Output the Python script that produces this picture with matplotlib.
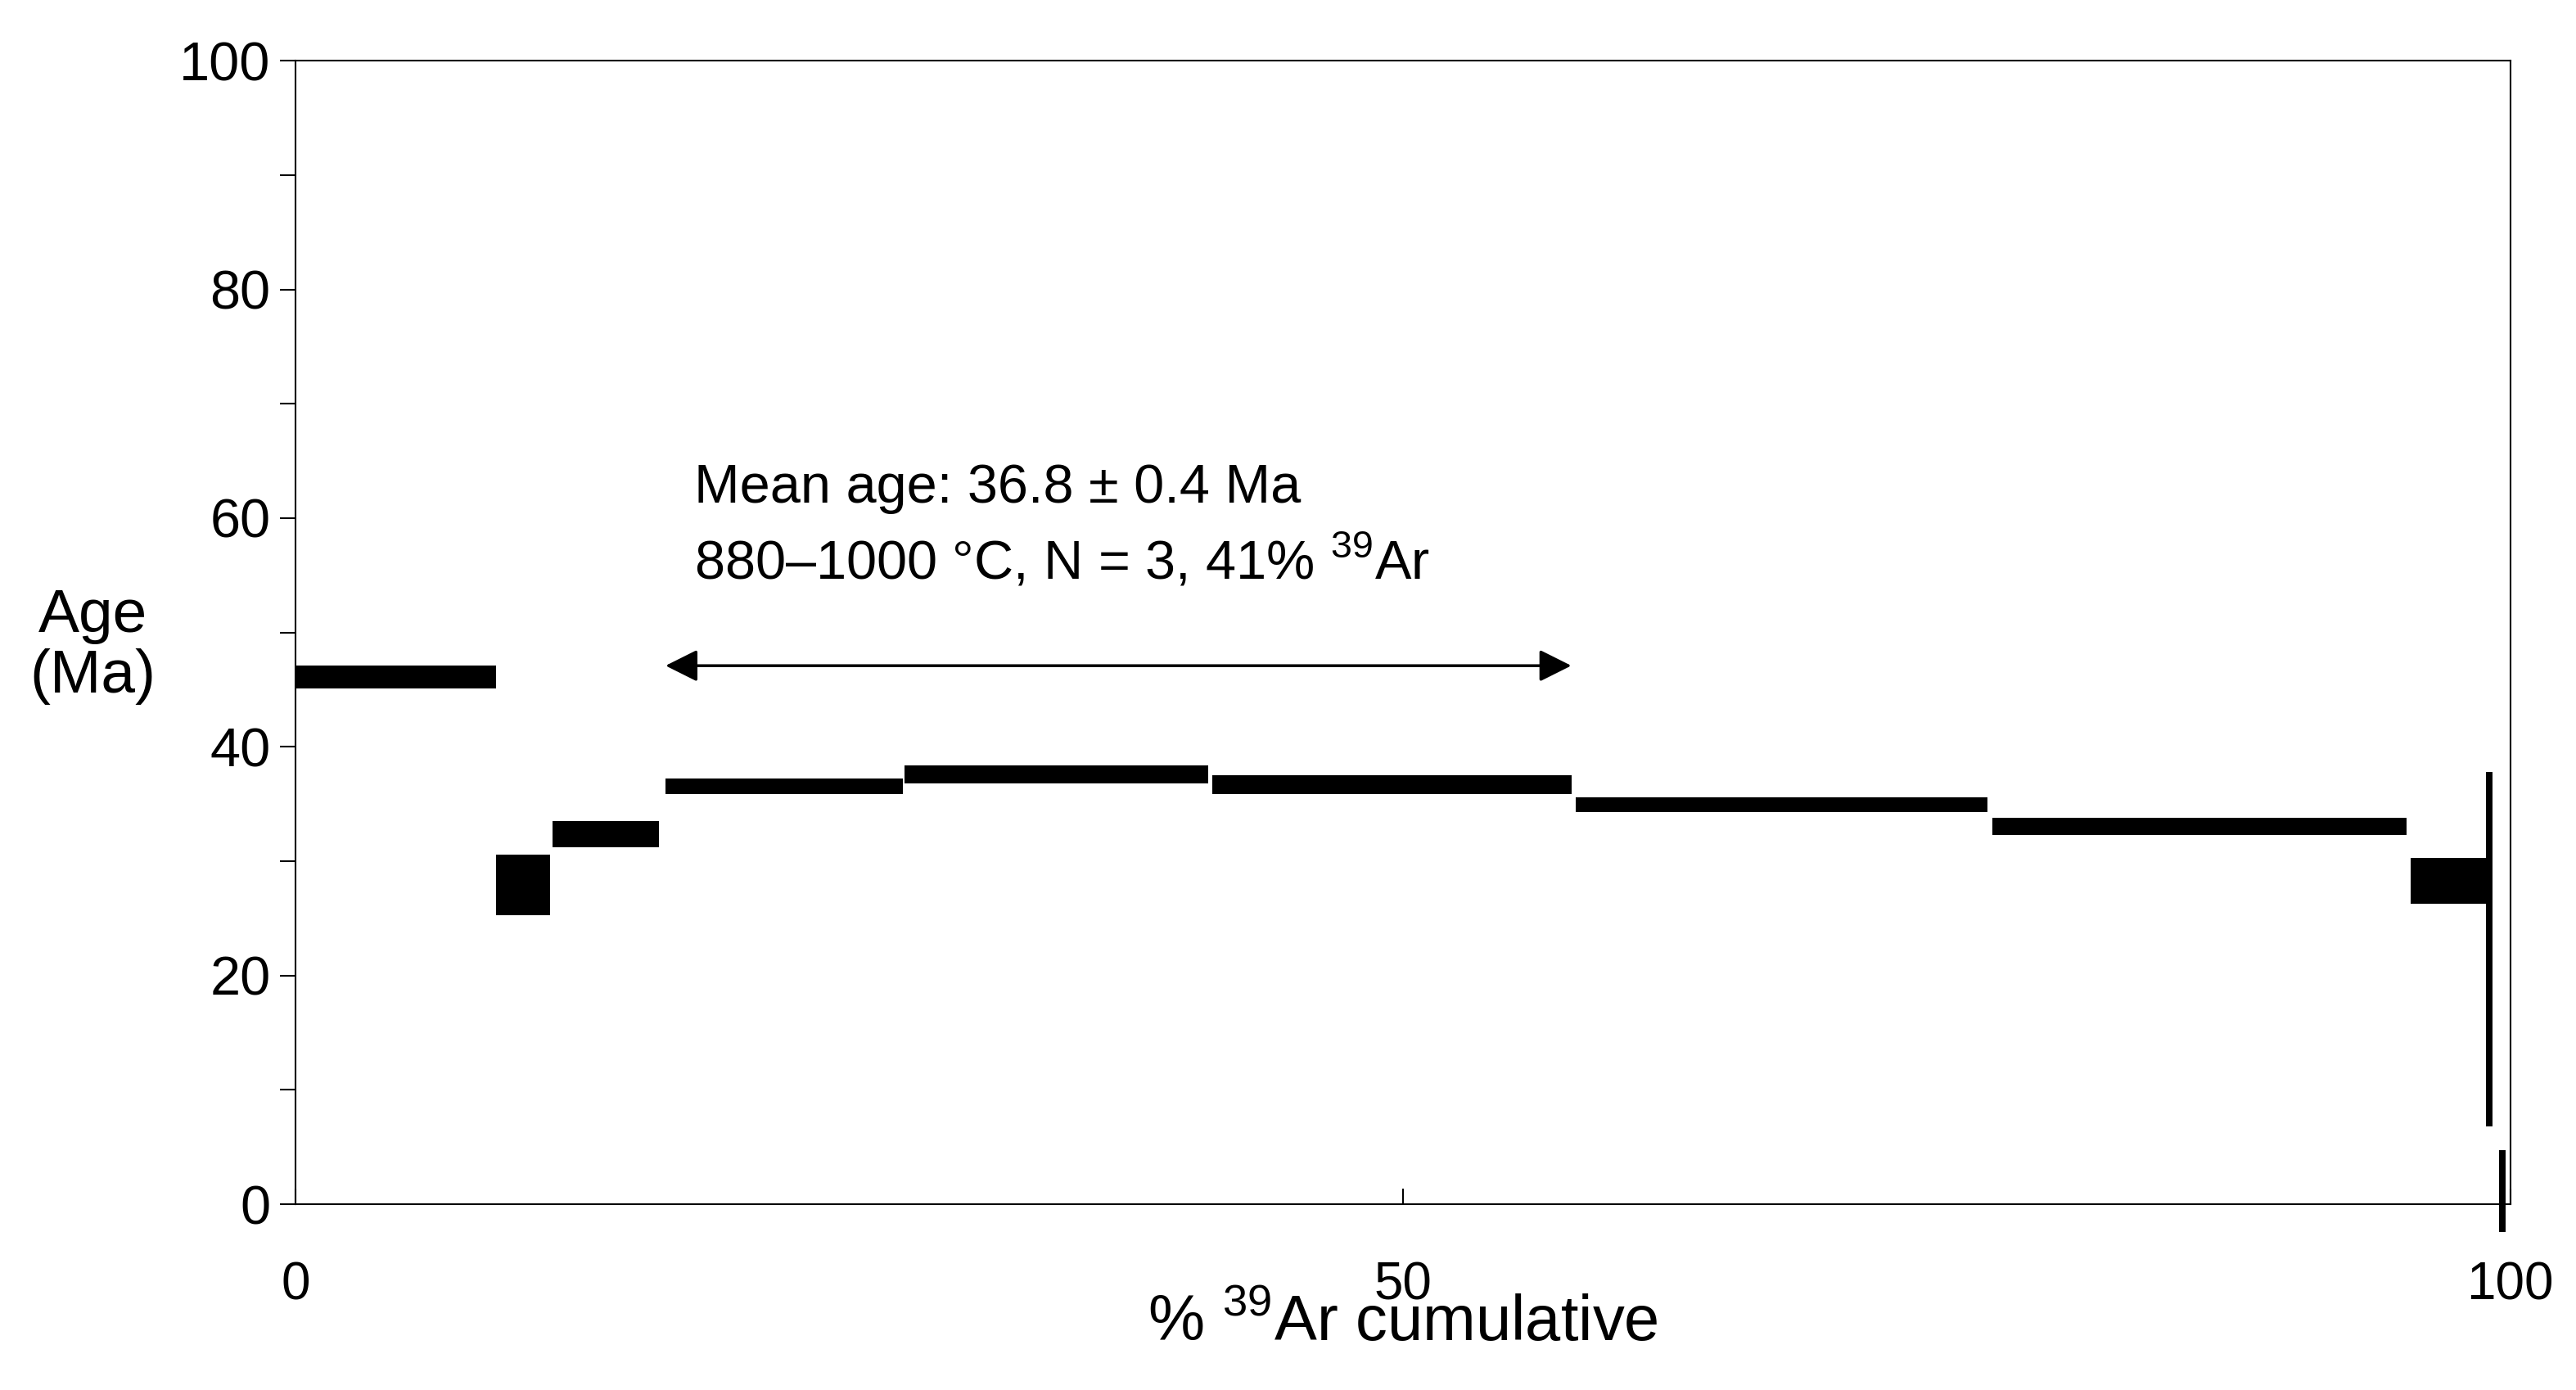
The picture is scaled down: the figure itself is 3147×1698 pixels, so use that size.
import matplotlib.pyplot as plt
from matplotlib.patches import Rectangle

plt.rcParams['font.family'] = ['Liberation Sans', 'DejaVu Sans']
plt.rcParams['mathtext.fontset'] = 'custom'
plt.rcParams['mathtext.rm'] = 'Liberation Sans'

# step boundaries (% 39Ar cumulative) and age ranges (Ma)
x_left = [0.0, 9.05, 11.6, 16.7, 27.5, 41.4, 57.8, 76.6, 95.5, 98.9, 99.5]
x_right = [9.05, 11.5, 16.4, 27.4, 41.2, 57.6, 76.4, 95.3, 98.9, 99.2, 99.8]
age_low = [45.1, 25.3, 31.2, 35.9, 36.8, 35.9, 34.3, 32.3, 26.3, 6.8, -2.4]
age_high = [47.1, 30.6, 33.5, 37.2, 38.4, 37.5, 35.6, 33.8, 30.3, 37.8, 4.7]

plateau = (16.7, 57.6)
arrow_y = 47.1

fig = plt.figure(figsize=(31.47, 16.98), dpi=100)
ax = fig.add_axes([0.1148, 0.1336, 0.8597, 0.8227])

for l, r, lo, hi in zip(x_left, x_right, age_low, age_high):
    ax.add_patch(Rectangle((l, lo), r - l, hi - lo, color='black', lw=0, clip_on=False))

ax.annotate('', xy=(plateau[1], arrow_y), xytext=(plateau[0], arrow_y),
            arrowprops=dict(arrowstyle='<|-|>', color='black', lw=2.5, mutation_scale=60,
                            shrinkA=0, shrinkB=0))
ax.text(18.0, 62.6, 'Mean age: 36.8 ± 0.4 Ma', fontsize=48, va='center')
ax.text(18.0, 56.2, '880–1000 °C, N = 3, 41% $^{\\mathrm{39}}$Ar', fontsize=48, va='center')

ax.set_xlim(0, 100)
ax.set_ylim(0, 100)
ax.set_yticks(range(0, 101, 20))
ax.set_yticks(range(0, 101, 10), minor=True)
ax.set_xticks([0, 50, 100])
ax.tick_params(axis='y', which='both', direction='out', length=14, width=1.5, labelsize=48, pad=8)
ax.tick_params(axis='x', direction='in', length=14, width=1.5, labelsize=46, pad=50)
for s in ax.spines.values():
    s.set_linewidth(1.5)

ax.set_xlabel('% $^{\\mathrm{39}}$Ar cumulative', fontsize=56, labelpad=-14)
fig.text(0.036, 0.535, 'Age\n(Ma)', fontsize=54, ha='center', va='center', linespacing=1.1)

fig.savefig('out.png')
